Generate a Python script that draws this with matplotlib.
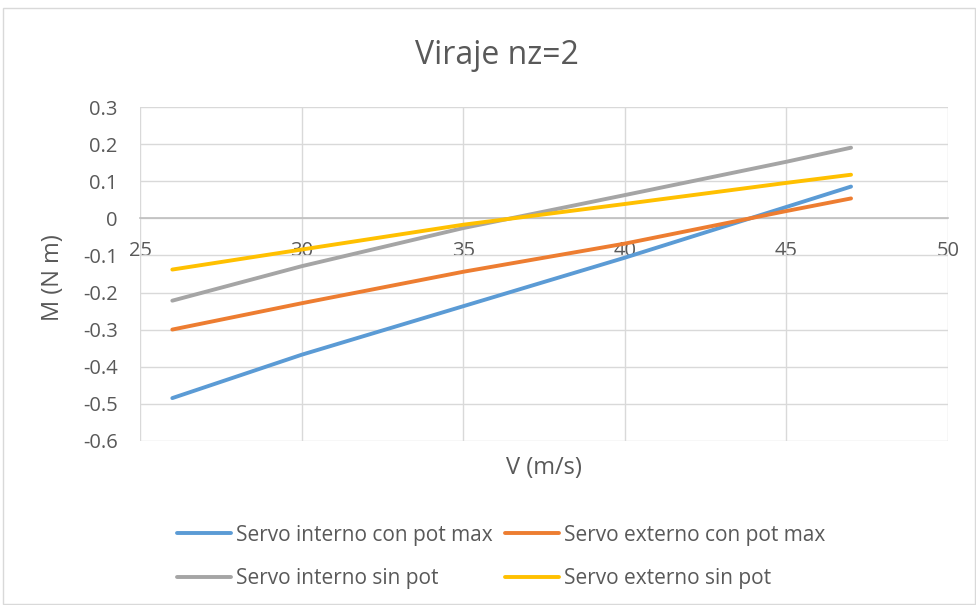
import matplotlib
matplotlib.use("Agg")
import matplotlib.pyplot as plt
from matplotlib.patches import Rectangle

plt.rcParams['font.family'] = ['Open Sans', 'DejaVu Sans']

# Velocity (m/s) and hinge moment (N m) for each servo configuration
V = [26, 30, 35, 40, 45, 47]
interno_con_pot = [-0.485, -0.368, -0.237, -0.106, 0.031, 0.086]
externo_con_pot = [-0.300, -0.229, -0.144, -0.068, 0.020, 0.054]
interno_sin_pot = [-0.222, -0.129, -0.026, 0.063, 0.153, 0.191]
externo_sin_pot = [-0.138, -0.084, -0.017, 0.039, 0.096, 0.118]

series = [
    ("Servo interno con pot max", interno_con_pot, "#5B9BD5"),
    ("Servo externo con pot max", externo_con_pot, "#ED7D31"),
    ("Servo interno sin pot", interno_sin_pot, "#A5A5A5"),
    ("Servo externo sin pot", externo_sin_pot, "#FFC000"),
]

x_ticks = [25, 30, 35, 40, 45, 50]
y_ticks = [0.3, 0.2, 0.1, 0, -0.1, -0.2, -0.3, -0.4, -0.5, -0.6]
y_labels = ["0.3", "0.2", "0.1", "0", "-0.1", "-0.2", "-0.3", "-0.4", "-0.5", "-0.6"]

W, H = 976, 605
fig = plt.figure(figsize=(W / 100, H / 100), dpi=100)
text_color = "#595959"
grid_color = "#D9D9D9"

# chart-area border
fig.patches.append(Rectangle((3 / W, 1 - 604 / H), 972 / W, 596 / H,
                             transform=fig.transFigure, fill=False,
                             edgecolor=grid_color, linewidth=1.0))

left, right, top, bottom = 140, 948, 107.3, 440.7
ax = fig.add_axes([left / W, 1 - bottom / H, (right - left) / W, (bottom - top) / H])

handles = {}
for label, vals, color in series:
    line, = ax.plot(V, vals, color=color, linewidth=2.8, solid_capstyle="round",
                    solid_joinstyle="round", label=label, zorder=3)
    handles[label] = line

ax.set_xlim(25, 50)
ax.set_ylim(-0.6, 0.3)
ax.set_xticks(x_ticks)
ax.set_yticks(y_ticks)
ax.set_yticklabels(y_labels)
ax.grid(True, color=grid_color, linewidth=1.0, zorder=0)
ax.set_axisbelow(True)

for s in ["top", "right", "left"]:
    ax.spines[s].set_visible(False)
ax.spines["bottom"].set_position(("data", 0))
ax.spines["bottom"].set_color("#BFBFBF")
ax.spines["bottom"].set_linewidth(1.2)
ax.spines["bottom"].set_zorder(1)

ax.tick_params(axis="both", length=0, labelsize=14.5, colors=text_color)
ax.tick_params(axis="x", pad=16)
ax.tick_params(axis="y", pad=16)

ax.set_xlabel("V (m/s)", fontsize=17, color=text_color)
ax.xaxis.set_label_coords(0.5, -0.045)
ax.set_ylabel("M (N m)", fontsize=17, color=text_color)
ax.yaxis.set_label_coords(-0.093, 0.49)

fig.text(497 / W, 1 - 56 / H, "Viraje nz=2", fontsize=23, color=text_color,
         ha="center", va="center")

# legend filled row by row: two entries per row
order = ["Servo interno con pot max", "Servo interno sin pot",
         "Servo externo con pot max", "Servo externo sin pot"]
leg = fig.legend([handles[k] for k in order], order, loc="center",
                 bbox_to_anchor=(501 / W, 1 - 557 / H), ncol=2,
                 frameon=False, fontsize=15, labelcolor=text_color,
                 handlelength=2.6, handletextpad=0.24, columnspacing=0.58,
                 labelspacing=1.08)

fig.savefig("out.png", dpi=100)
